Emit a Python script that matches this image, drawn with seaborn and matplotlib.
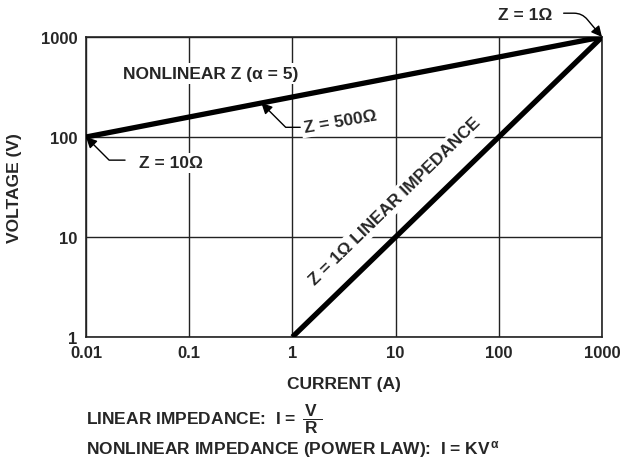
import numpy as np
import matplotlib
matplotlib.use("Agg")
import matplotlib.pyplot as plt
import seaborn as sns

# data
current_nonlinear = [0.01, 1000]
voltage_nonlinear = [100, 1000]
current_linear = [1, 1000]
voltage_linear = [1, 1000]
x_ticks = [0.01, 0.1, 1, 10, 100, 1000]
x_tick_labels = ["0.01", "0.1", "1", "10", "100", "1000"]
y_ticks = [1, 10, 100, 1000]
y_tick_labels = ["1", "10", "100", "1000"]

sns.set_style("white")
plt.rcParams["font.family"] = ["Liberation Sans", "DejaVu Sans"]
plt.rcParams["font.weight"] = "bold"
plt.rcParams["mathtext.fontset"] = "custom"
plt.rcParams["mathtext.rm"] = "Liberation Sans:bold"
plt.rcParams["mathtext.it"] = "Liberation Sans:bold"
plt.rcParams["mathtext.bf"] = "Liberation Sans:bold"
plt.rcParams["mathtext.sf"] = "Liberation Sans:bold"

FS = 12.5
TICK_FS = 12

fig = plt.figure(figsize=(6.26, 4.64), dpi=100)
ax = fig.add_axes([86 / 626, 1 - 338 / 464, 516 / 626, 300 / 464])

sns.lineplot(x=current_nonlinear, y=voltage_nonlinear, color="black", lw=3.8,
             ax=ax, zorder=4, solid_capstyle="butt")
sns.lineplot(x=current_linear, y=voltage_linear, color="black", lw=3.8,
             ax=ax, zorder=4, solid_capstyle="butt")

ax.set_xscale("log")
ax.set_yscale("log")
ax.set_xlim(0.01, 1000)
ax.set_ylim(1, 1000)
ax.set_xticks(x_ticks)
ax.set_xticklabels(x_tick_labels, fontsize=TICK_FS, fontweight="bold")
ax.set_yticks(y_ticks)
ax.set_yticklabels(y_tick_labels, fontsize=TICK_FS, fontweight="bold")
ax.minorticks_off()
ax.tick_params(length=0, pad=6)
ax.grid(True, color="#222222", lw=1.0, zorder=1)
ax.set_axisbelow(True)
for s in ax.spines.values():
    s.set_color("#222222")
    s.set_linewidth(1.2)

ax.set_xlabel("CURRENT (A)", fontsize=FS, fontweight="bold")
ax.set_ylabel("VOLTAGE (V)", fontsize=FS, fontweight="bold")
ax.xaxis.set_label_coords(0.5, -0.13)
ax.yaxis.set_label_coords(-0.124, 0.5)

box = dict(fc="white", ec="none", pad=2)
arrow = dict(arrowstyle="-|>", color="black", lw=1.0, mutation_scale=16,
             shrinkA=0, shrinkB=0)

ax.text(0.16, 430, "NONLINEAR Z (α = 5)", fontsize=FS, fontweight="bold",
        ha="center", va="center", bbox=box, zorder=5)

ax.text(2.9, 143, "Z = 500Ω", fontsize=FS, fontweight="bold", rotation=10,
        ha="center", va="center", bbox=box, zorder=5)
ax.annotate("", xy=(0.5, 219), xytext=(1.19, 125),
            arrowprops=dict(connectionstyle="angle,angleA=0,angleB=-45,rad=0", **arrow),
            zorder=6)

ax.text(0.066, 55, "Z = 10Ω", fontsize=FS, fontweight="bold",
        ha="center", va="center", bbox=box, zorder=5)
ax.annotate("", xy=(0.01, 100), xytext=(0.0239, 58.7),
            arrowprops=dict(connectionstyle="angle,angleA=0,angleB=-45,rad=0", **arrow),
            zorder=6, annotation_clip=False)

ax.text(180, 1690, "Z = 1Ω", fontsize=FS, fontweight="bold",
        ha="center", va="center", clip_on=False, zorder=5)
ax.annotate("", xy=(1000, 1000), xytext=(425, 1730),
            arrowprops=dict(connectionstyle="angle,angleA=0,angleB=-50,rad=8", **arrow),
            zorder=6, annotation_clip=False)

ax.text(9.9, 23, "Z = 1Ω LINEAR IMPEDANCE", fontsize=FS, fontweight="bold",
        rotation=44.3, ha="center", va="center", bbox=box, zorder=5)

fig.text(86 / 626, 1 - 419 / 464, r"LINEAR IMPEDANCE:  I = $\,\dfrac{\,V\,}{\,R\,}$",
         fontsize=FS, fontweight="bold", ha="left", va="center")
fig.text(86 / 626, 1 - 450 / 464, r"NONLINEAR IMPEDANCE (POWER LAW):  I = KV$^{\,\alpha}$",
         fontsize=FS, fontweight="bold", ha="left", va="center")

fig.savefig("out.png", dpi=100)
